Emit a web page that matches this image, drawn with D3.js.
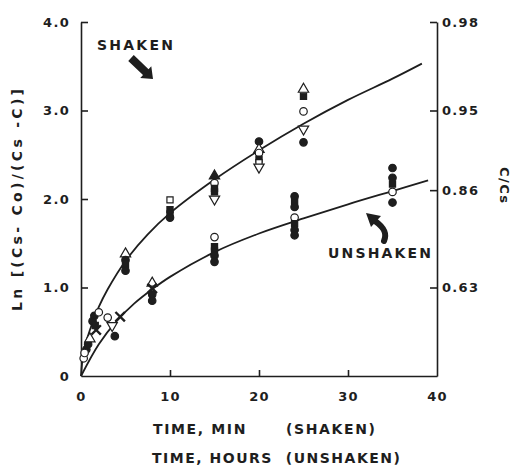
<!DOCTYPE html>
<html>
<head>
<meta charset="utf-8">
<script src="https://cdn.jsdelivr.net/npm/d3@7"></script>
<style>
  html, body { margin: 0; padding: 0; background: #fff; }
  svg { display: block; }
  text { font-family: "DejaVu Sans", "Liberation Sans", sans-serif; font-weight: bold; fill: #1e1e1e; }
</style>
</head>
<body>
<div id="chart"></div>
<script>
// ---------- data ----------
const xTicks = [0, 10, 20, 30, 40];
const leftTicks = [0, 1, 2, 3, 4];
const leftTickLabels = ["0", "1.0", "2.0", "3.0", "4.0"];
const rightTickLabels = ["0.98", "0.95", "0.86", "0.63"];
const rightTickAt = [4.0, 3.0, 2.1, 1.0];   // position on the Ln scale where each C/Cs label is drawn

// fitted curves: [time, ln value]
const shakenCurve = [[0,0],[0.3,0.28],[1,0.52],[2,0.78],[3,0.98],[5,1.3],[7.5,1.6],[10,1.84],[15,2.22],[20,2.55],[25,2.85],[30,3.12],[35,3.36],[38.3,3.53]];
const unshakenCurve = [[0,0],[2,0.36],[4,0.62],[6,0.82],[8,0.98],[10,1.12],[15,1.4],[20,1.61],[25,1.78],[30,1.94],[35,2.09],[39,2.21]];

// measured points: [time, ln value, marker]
const shakenPoints = [
  [0.3,0.2,"oc"],[0.6,0.3,"fc"],[0.8,0.36,"fc"],[1.0,0.42,"ot"],[1.3,0.62,"fc"],[1.5,0.68,"fc"],[1.6,0.57,"fs"],[2.0,0.72,"oc"],
  [5,1.38,"ot"],[5,1.31,"fc"],[5,1.26,"fs"],[5,1.19,"fc"],
  [10,1.99,"os"],[10,1.88,"fs"],[10,1.83,"fs"],[10,1.79,"fc"],
  [15,2.26,"ft"],[15,2.18,"oc"],[15,2.12,"fs"],[15,2.08,"fs"],[15,2.0,"it"],
  [20,2.65,"fc"],[20,2.56,"ot"],[20,2.52,"oc"],[20,2.45,"fs"],[20,2.41,"os"],[20,2.36,"it"],
  [25,3.24,"ot"],[25,3.16,"fs"],[25,2.99,"oc"],[25,2.79,"it"],[25,2.64,"fc"]
];
const unshakenPoints = [
  [0.4,0.26,"oc"],[1.7,0.52,"x"],[3.0,0.66,"oc"],[3.5,0.57,"it"],[3.8,0.45,"fc"],[4.4,0.67,"x"],
  [8,1.05,"ot"],[8,0.99,"x"],[8,0.92,"fc"],[8,0.85,"fc"],
  [15,1.57,"oc"],[15,1.46,"fs"],[15,1.41,"fs"],[15,1.36,"fc"],[15,1.29,"fc"],
  [24,2.03,"fc"],[24,1.97,"fs"],[24,1.91,"fc"],[24,1.79,"oc"],[24,1.72,"fs"],[24,1.65,"fc"],[24,1.59,"fc"],
  [35,2.35,"fc"],[35,2.24,"fc"],[35,2.17,"fs"],[35,2.08,"oc"],[35,1.96,"fc"]
];

// ---------- layout ----------
const W = 512, H = 467;
const x = d3.scaleLinear().domain([0, 40]).range([81, 437]);
const y = d3.scaleLinear().domain([0, 4]).range([376, 22]);
const ink = "#1e1e1e";

const svg = d3.select("#chart").append("svg").attr("width", W).attr("height", H);
svg.append("rect").attr("width", W).attr("height", H).attr("fill", "#fff");

// axes
const gl = svg.append("g").attr("transform", `translate(${x(0)},0)`)
  .call(d3.axisLeft(y).tickValues(leftTicks).tickFormat((d, i) => leftTickLabels[i])
    .tickSizeInner(-7).tickSizeOuter(0).tickPadding(11));
const gr = svg.append("g").attr("transform", `translate(${x(40)},0)`)
  .call(d3.axisRight(y).tickValues(rightTickAt).tickFormat((d, i) => rightTickLabels[i])
    .tickSizeInner(-7).tickSizeOuter(0).tickPadding(5));
const gb = svg.append("g").attr("transform", `translate(0,${y(0)})`)
  .call(d3.axisBottom(x).tickValues(xTicks).tickFormat(d3.format("d"))
    .tickSizeInner(-6).tickSizeOuter(0).tickPadding(16));
[gl, gr, gb].forEach(g => {
  g.select(".domain").attr("stroke", ink).attr("stroke-width", 1.6);
  g.selectAll(".tick line").attr("stroke", ink).attr("stroke-width", 1.6);
  g.selectAll(".tick text").attr("font-family", "DejaVu Sans").attr("font-weight", "bold")
    .attr("font-size", 13).attr("fill", ink).style("letter-spacing", "1.3px");
});
gl.selectAll(".tick").filter(d => d === 0).select("line").remove();
gb.selectAll(".tick").filter(d => d === 0 || d === 40).select("line").remove();

// curves
const line = d3.line().x(d => x(d[0])).y(d => y(d[1])).curve(d3.curveCatmullRom.alpha(0.5));
[shakenCurve, unshakenCurve].forEach(c => {
  svg.append("path").datum(c).attr("d", line).attr("fill", "none")
    .attr("stroke", ink).attr("stroke-width", 1.8);
});

// markers
function markerPath(m) {
  switch (m) {
    case "oc": case "fc": return d3.symbol(d3.symbolCircle, 44)();
    case "os": case "fs": return d3.symbol(d3.symbolSquare, 38)();
    case "ot": case "ft": case "it": return d3.symbol(d3.symbolTriangle, 46)();
    case "x": return d3.symbol(d3.symbolX || d3.symbolCross, 60)();
  }
}
const allPts = shakenPoints.concat(unshakenPoints);
svg.append("g").selectAll("path").data(allPts).join("path")
  .attr("d", d => markerPath(d[2]))
  .attr("transform", d => `translate(${x(d[0])},${y(d[1])})` + (d[2] === "it" ? " rotate(180)" : "") + (d[2] === "x" && !d3.symbolX ? " rotate(45)" : ""))
  .attr("fill", d => d[2] === "x" ? "none" : (d[2][0] === "f" ? ink : "#fff"))
  .attr("stroke", ink)
  .attr("stroke-width", d => d[2] === "x" ? 2.4 : 1.2);

// annotations
svg.append("text").attr("x", 97).attr("y", 50).attr("font-size", 14)
  .attr("textLength", 76).attr("lengthAdjust", "spacing").text("SHAKEN");
svg.append("text").attr("x", 328).attr("y", 258).attr("font-size", 14)
  .attr("textLength", 103).attr("lengthAdjust", "spacing").text("UNSHAKEN");

// shaken arrow (straight, pointing down-right)
(function () {
  const x0 = 131, y0 = 58, x1 = 153, y1 = 79;
  const ang = Math.atan2(y1 - y0, x1 - x0);
  const L = Math.hypot(x1 - x0, y1 - y0), hl = 10, sw = 4, hw = 8;
  const pts = [[0, -sw], [L - hl, -sw], [L - hl, -hw], [L, 0], [L - hl, hw], [L - hl, sw], [0, sw]];
  const c = Math.cos(ang), s = Math.sin(ang);
  svg.append("path").attr("fill", ink)
    .attr("d", "M" + pts.map(p => [x0 + p[0] * c - p[1] * s, y0 + p[0] * s + p[1] * c].join(",")).join("L") + "Z");
})();

// unshaken arrow (curved, pointing up-left)
svg.append("path").attr("fill", "none").attr("stroke", ink).attr("stroke-width", 6)
  .attr("stroke-linecap", "round")
  .attr("d", "M384,241 C388,232 382,226 375,221");
svg.append("path").attr("fill", ink).attr("d", "M366,213 L381,216 L371,227 Z");

// axis titles
svg.append("text").attr("transform", "translate(22,200) rotate(-90)").attr("text-anchor", "middle")
  .attr("font-size", 14).attr("textLength", 222).attr("lengthAdjust", "spacing")
  .text("Ln [(Cs- Co)/(Cs -C)]");
svg.append("text").attr("transform", "translate(500,185) rotate(90)").attr("text-anchor", "middle")
  .attr("font-size", 13).attr("textLength", 36).attr("lengthAdjust", "spacing").text("C/Cs");
svg.append("text").attr("x", 153).attr("y", 434).attr("font-size", 14)
  .attr("textLength", 222).attr("lengthAdjust", "spacing").attr("xml:space", "preserve")
  .text("TIME, MIN      (SHAKEN)");
svg.append("text").attr("x", 152).attr("y", 463).attr("font-size", 14)
  .attr("textLength", 248).attr("lengthAdjust", "spacing").attr("xml:space", "preserve")
  .text("TIME, HOURS  (UNSHAKEN)");
</script>
</body>
</html>
